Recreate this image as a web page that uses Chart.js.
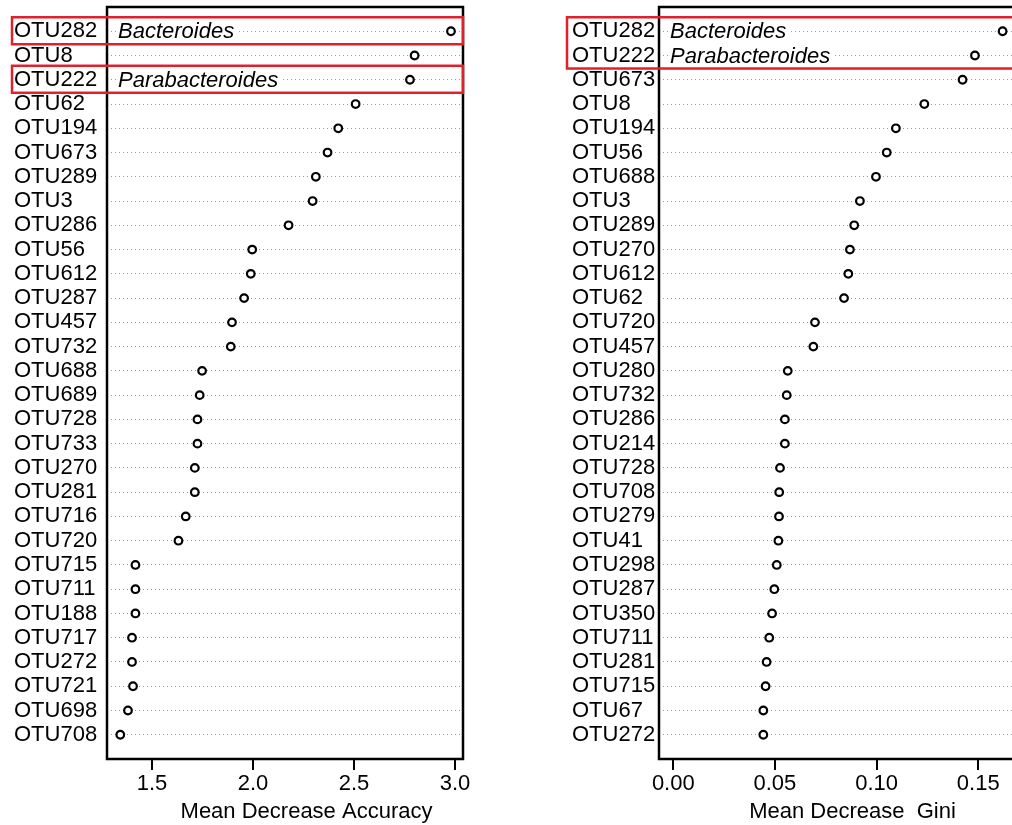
<!DOCTYPE html>
<html>
<head>
<meta charset="utf-8">
<script src="https://cdn.jsdelivr.net/npm/chart.js"></script>
<style>
  html, body { margin: 0; padding: 0; background: #fff; overflow: hidden; }
  #wrap { position: relative; width: 1012px; height: 825px; overflow: hidden; }
  canvas { position: absolute; top: 0; }
  #accChart { left: 0; }
  #giniChart { left: 540px; }
</style>
</head>
<body>
<div id="wrap">
  <canvas id="accChart" width="500" height="825"></canvas>
  <canvas id="giniChart" width="520" height="825"></canvas>
</div>
<script>
// left panel: Mean Decrease Accuracy
var accNames = ['OTU282', 'OTU8', 'OTU222', 'OTU62', 'OTU194', 'OTU673', 'OTU289', 'OTU3', 'OTU286', 'OTU56',
                'OTU612', 'OTU287', 'OTU457', 'OTU732', 'OTU688', 'OTU689', 'OTU728', 'OTU733', 'OTU270', 'OTU281',
                'OTU716', 'OTU720', 'OTU715', 'OTU711', 'OTU188', 'OTU717', 'OTU272', 'OTU721', 'OTU698', 'OTU708'];
var accValues = [2.98, 2.80, 2.777, 2.508, 2.422, 2.369, 2.311, 2.295, 2.176, 1.996,
                 1.989, 1.956, 1.896, 1.890, 1.748, 1.736, 1.725, 1.725, 1.712, 1.712,
                 1.667, 1.631, 1.418, 1.418, 1.418, 1.401, 1.401, 1.406, 1.381, 1.343];
var accTicks = [1.5, 2.0, 2.5, 3.0];

// right panel: Mean Decrease Gini
var giniNames = ['OTU282', 'OTU222', 'OTU673', 'OTU8', 'OTU194', 'OTU56', 'OTU688', 'OTU3', 'OTU289', 'OTU270',
                 'OTU612', 'OTU62', 'OTU720', 'OTU457', 'OTU280', 'OTU732', 'OTU286', 'OTU214', 'OTU728', 'OTU708',
                 'OTU279', 'OTU41', 'OTU298', 'OTU287', 'OTU350', 'OTU711', 'OTU281', 'OTU715', 'OTU67', 'OTU272'];
var giniValues = [0.162, 0.1484, 0.1423, 0.1235, 0.1095, 0.105, 0.0997, 0.0918, 0.089, 0.0869,
                  0.0861, 0.084, 0.0697, 0.0689, 0.0563, 0.0558, 0.0549, 0.0549, 0.0525, 0.0521,
                  0.052, 0.0517, 0.0509, 0.0497, 0.0486, 0.0472, 0.0459, 0.0454, 0.0443, 0.0443];
var giniTicks = [0.00, 0.05, 0.10, 0.15];

// genus notes (row numbers start at 1) and red highlight boxes [firstRow, lastRow]
var accTaxa = [{ row: 1, name: 'Bacteroides' }, { row: 3, name: 'Parabacteroides' }];
var accBoxes = [[1, 1], [3, 3]];
var giniTaxa = [{ row: 1, name: 'Bacteroides' }, { row: 2, name: 'Parabacteroides' }];
var giniBoxes = [[1, 2]];

var FONT = '"Liberation Sans", Arial, sans-serif';

var panelPlugin = {
  id: 'panel',
  afterDraw: function (chart) {
    var o = chart.options.plugins.panel;
    var ctx = chart.ctx;
    var a = chart.chartArea;
    var y = chart.scales.y;
    ctx.save();

    // genus names in italics
    ctx.font = 'italic 22px ' + FONT;
    ctx.textBaseline = 'middle';
    ctx.textAlign = 'left';
    o.taxa.forEach(function (t) {
      var py = y.getPixelForValue(t.row);
      var w = ctx.measureText(t.name).width;
      ctx.fillStyle = '#fff';
      ctx.fillRect(a.left + 9, py - 10, w + 5, 20);
      ctx.fillStyle = '#000';
      ctx.fillText(t.name, a.left + 11, py + 1);
    });

    // plot box
    ctx.strokeStyle = '#000';
    ctx.lineWidth = 2.5;
    ctx.strokeRect(a.left, a.top, a.right - a.left, a.bottom - a.top);

    // red highlight boxes
    ctx.strokeStyle = '#e0202a';
    ctx.lineWidth = 2.5;
    o.boxes.forEach(function (b) {
      var y0 = y.getPixelForValue(b[0]) - 14;
      var y1 = y.getPixelForValue(b[1]) + 13;
      ctx.strokeRect(o.boxLeft, y0, a.right - o.boxLeft, y1 - y0);
    });

    // axis title
    ctx.fillStyle = '#000';
    ctx.font = '22px ' + FONT;
    ctx.textAlign = 'center';
    ctx.textBaseline = 'alphabetic';
    ctx.fillText(o.title, o.titleX, 818);
    ctx.restore();
  }
};

function noPad(s) {
  s.paddingTop = 0; s.paddingBottom = 0; s.paddingLeft = 0; s.paddingRight = 0;
}

function makeChart(id, names, values, ticks, xMin, xMax, digits, padLeft, yWidth, padRight, extra) {
  var pts = values.map(function (v, i) { return { x: v, y: i + 1 }; });
  return new Chart(document.getElementById(id), {
    type: 'scatter',
    data: {
      datasets: [{
        data: pts,
        pointStyle: 'circle',
        pointRadius: 3.8,
        pointBorderWidth: 2.2,
        borderColor: '#000',
        backgroundColor: '#fff'
      }]
    },
    options: {
      responsive: false,
      animation: false,
      layout: { padding: { top: 7, right: padRight, bottom: 0, left: padLeft } },
      plugins: {
        legend: { display: false },
        tooltip: { enabled: false },
        panel: extra
      },
      scales: {
        x: {
          type: 'linear',
          min: xMin,
          max: xMax,
          afterBuildTicks: function (s) { s.ticks = ticks.map(function (v) { return { value: v }; }); },
          afterFit: function (s) { s.height = 66; noPad(s); },
          border: { display: false },
          grid: { drawOnChartArea: false, drawTicks: true, tickLength: 11, color: '#000', lineWidth: 2 },
          ticks: {
            color: '#000',
            padding: 1,
            maxRotation: 0,
            font: { family: FONT, size: 22 },
            callback: function (v) { return Number(v).toFixed(digits); }
          }
        },
        y: {
          type: 'linear',
          min: 0,
          max: names.length + 1,
          reverse: true,
          afterBuildTicks: function (s) { s.ticks = names.map(function (n, i) { return { value: i + 1 }; }); },
          afterFit: function (s) { s.width = yWidth; noPad(s); },
          border: { display: false, dash: [1, 3] },
          grid: { drawTicks: false, color: '#9a9a9a', lineWidth: 1 },
          ticks: {
            autoSkip: false,
            crossAlign: 'far',
            color: '#000',
            padding: 4,
            font: { family: FONT, size: 22 },
            callback: function (v) { return names[v - 1]; }
          }
        }
      }
    },
    plugins: [panelPlugin]
  });
}

makeChart('accChart', accNames, accValues, accTicks, 1.2772, 3.0396, 1, 14, 93, 37,
  { taxa: accTaxa, boxes: accBoxes, boxLeft: 12, title: 'Mean Decrease Accuracy', titleX: 306.5 });
makeChart('giniChart', giniNames, giniValues, giniTicks, -0.00703, 0.1804, 2, 32, 87, 20,
  { taxa: giniTaxa, boxes: giniBoxes, boxLeft: 27, title: 'Mean Decrease  Gini', titleX: 312.5 });
</script>
</body>
</html>
